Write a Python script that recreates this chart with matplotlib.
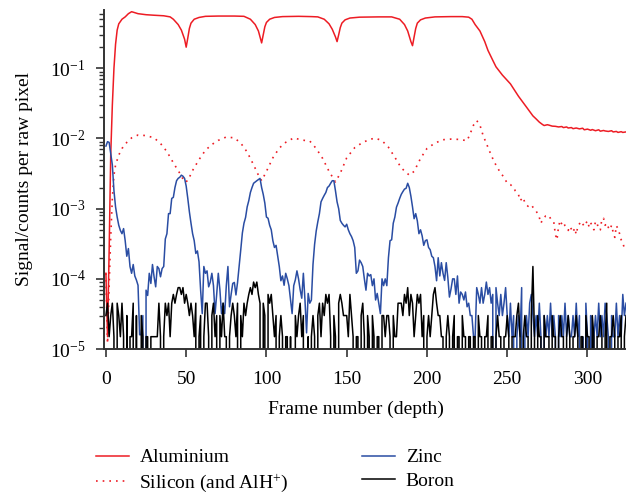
import matplotlib
matplotlib.use('Agg')
import matplotlib.pyplot as plt
import numpy as np

plt.rcParams['font.family'] = 'Liberation Serif'
plt.rcParams['mathtext.fontset'] = 'custom'
plt.rcParams['mathtext.rm'] = 'Liberation Serif'
plt.rcParams['mathtext.it'] = 'Liberation Serif:italic'
plt.rcParams['mathtext.bf'] = 'Liberation Serif:bold'

# Aluminium signal (frame, value)
al_frames = [0, 1, 2, 3, 4, 5, 6, 7, 8, 10,
             12, 14, 16, 18, 20, 25, 30, 36, 40, 42,
             45, 47, 49, 50, 51, 52, 53, 55, 58, 62,
             70, 80, 86, 90, 93, 95, 96, 97, 98, 99,
             100, 102, 105, 110, 120, 128, 132, 136, 139, 141,
             143, 144, 145, 146, 147, 149, 152, 158, 170, 178,
             183, 186, 188, 190, 191, 192, 193, 194, 196, 199,
             205, 215, 222, 226, 228, 230, 233, 236, 238, 241,
             243, 247, 252, 257, 262, 266, 268, 270, 272, 273,
             275, 276, 278, 280, 282, 284, 285, 287, 288, 290,
             291, 293, 295, 297, 298, 300, 302, 303, 305, 307,
             308, 310, 311, 313, 315, 316, 318, 319, 321, 322,
             324]
al_vals = [1.2e-4, 1.5e-5, 2.5e-4, 6e-3, 0.03, 0.1, 0.22, 0.35, 0.43, 0.5,
           0.54, 0.6, 0.64, 0.62, 0.6, 0.58, 0.57, 0.56, 0.54, 0.5,
           0.42, 0.35, 0.26, 0.2, 0.27, 0.37, 0.44, 0.5, 0.53, 0.55,
           0.555, 0.555, 0.55, 0.5, 0.42, 0.34, 0.28, 0.23, 0.3, 0.39,
           0.45, 0.5, 0.53, 0.545, 0.55, 0.545, 0.54, 0.5, 0.43, 0.36,
           0.28, 0.24, 0.3, 0.38, 0.44, 0.49, 0.52, 0.535, 0.54, 0.54,
           0.5, 0.42, 0.34, 0.24, 0.21, 0.28, 0.37, 0.44, 0.49, 0.52,
           0.54, 0.545, 0.545, 0.535, 0.5, 0.42, 0.34, 0.24, 0.18, 0.13,
           0.105, 0.08, 0.06, 0.04, 0.028, 0.021, 0.019, 0.0171, 0.0158, 0.0153,
           0.0157, 0.0155, 0.015, 0.0149, 0.0146, 0.0148, 0.0143, 0.0146, 0.0141, 0.0143,
           0.0138, 0.0141, 0.0137, 0.014, 0.0133, 0.0136, 0.0131, 0.0134, 0.0129, 0.0133,
           0.0127, 0.013, 0.0128, 0.0126, 0.0129, 0.0124, 0.0126, 0.0122, 0.0125, 0.0122,
           0.0124]

# Silicon (and AlH+) signal (frame, value)
si_frames = [0, 1, 2, 3, 4, 5, 6, 8, 10, 13,
             16, 20, 25, 30, 34, 38, 42, 46, 49, 51,
             54, 58, 62, 66, 70, 75, 80, 84, 88, 92,
             95, 97, 100, 104, 108, 112, 117, 122, 127, 131,
             135, 139, 143, 146, 150, 155, 160, 165, 168, 172,
             176, 180, 184, 189, 192, 196, 200, 205, 210, 215,
             220, 225, 227, 229, 231, 233, 235, 237, 240, 242,
             244, 246, 248, 250, 252, 254, 255, 257, 258, 260,
             261, 263, 265, 266, 268, 270, 271, 272, 274, 276,
             277, 279, 280, 281, 282, 283, 284, 285, 286, 288,
             289, 290, 291, 292, 293, 294, 296, 298, 299, 300,
             301, 302, 304, 305, 306, 307, 308, 309, 310, 311,
             312, 313, 314, 315, 316, 317, 318, 319, 320, 321,
             322, 323, 324]
si_vals = [1.2e-4, 1.2e-5, 8e-5, 4e-4, 1.4e-3, 3e-3, 4.2e-3, 5.8e-3, 7.2e-3, 8.8e-3,
           0.0102, 0.0112, 0.011, 0.0102, 8.5e-3, 6.5e-3, 4.5e-3, 3.2e-3, 2.4e-3, 2.5e-3,
           3.5e-3, 5e-3, 6.8e-3, 8.2e-3, 9.4e-3, 0.0105, 0.0102, 8.6e-3, 6.4e-3, 4.2e-3,
           3e-3, 2.5e-3, 3.4e-3, 5.3e-3, 7.3e-3, 8.8e-3, 0.0102, 0.0095, 0.0092, 7.2e-3,
           5.2e-3, 3.4e-3, 2.4e-3, 3.2e-3, 5.3e-3, 7.4e-3, 8.8e-3, 0.0098, 0.0101, 0.0093,
           7.5e-3, 5.4e-3, 3.8e-3, 3.0e-3, 3.4e-3, 5.2e-3, 7.2e-3, 8.6e-3, 9.6e-3, 0.0098,
           0.0097, 0.0093, 0.0118, 0.0155, 0.018, 0.0155, 0.011, 8.5e-3, 5.8e-3, 4.6e-3,
           3.8e-3, 3.2e-3, 2.8e-3, 2.3e-3, 2.2e-3, 2.0e-3, 1.8e-3, 1.6e-3, 1.3e-3, 1.45e-3,
           1.2e-3, 1.08e-3, 1.14e-3, 1.05e-3, 9.3e-4, 7.5e-4, 6.2e-4, 7.0e-4, 7.9e-4, 8.0e-4,
           7.2e-4, 6.5e-4, 4.3e-4, 3.6e-4, 5.6e-4, 6.8e-4, 6.0e-4, 6.4e-4, 5.7e-4, 4.9e-4,
           5.6e-4, 5.1e-4, 4.6e-4, 5.3e-4, 4.3e-4, 5.6e-4, 6.6e-4, 5.6e-4, 6.2e-4, 6.7e-4,
           5.5e-4, 6.3e-4, 5.0e-4, 6.6e-4, 6.2e-4, 5.0e-4, 5.0e-4, 7.2e-4, 7.3e-4, 5.8e-4,
           6.2e-4, 5.4e-4, 5.0e-4, 5.8e-4, 4.6e-4, 3.9e-4, 5.7e-4, 5.2e-4, 4.4e-4, 3.6e-4,
           3.3e-4, 2.7e-4, 2.9e-4]

# Zinc signal, one value per frame from frame 0, in units of 1e-5
zinc = [780, 900, 880, 600, 420, 180, 106, 76, 58, 49, 44, 52, 35, 21, 27, 15, 12, 16, 11, 9.6, 8.1, 1.6, 1.6, 3.0, 0,
        6.9, 5.8, 12, 8.6, 16, 10.7, 7.7, 15, 14, 10.7, 14, 15, 37, 44, 85, 85, 140, 145, 200, 250, 270, 280, 300, 290, 270,
        210, 140, 90, 62, 44, 35, 23, 25, 17.5, 6.9, 3.2, 15, 12, 13, 7.7, 9, 12, 8, 3.2, 6, 12, 7, 3.2, 4.5, 3.2,
        8, 15, 4, 6, 8.6, 8.9, 5.9, 8.9, 15, 26, 45, 62, 75, 106, 130, 170, 200, 230, 240, 250, 260, 270, 200, 160, 120,
        76, 73, 58, 50, 35, 28, 30, 21, 15, 9.4, 11, 8.1, 12, 10, 8, 5, 3.2, 8, 9.7, 13, 10, 7, 5.3, 12, 5,
        1.7, 6.2, 4.5, 5, 16, 31, 48, 65, 85, 125, 140, 155, 170, 200, 210, 230, 250, 250, 180, 125, 100, 68, 62, 58, 55,
        60, 50, 44, 40, 35, 28, 12, 13, 18.5, 17, 15, 10, 6.9, 12, 11, 11.5, 8, 10, 5, 6.2, 4.5, 3.2, 10, 8, 10,
        8, 20, 35, 36, 62, 76, 105, 120, 140, 160, 175, 190, 195, 230, 200, 150, 106, 72, 85, 67, 44, 50, 41, 30, 35,
        36, 28, 26, 21, 20, 15, 9.4, 20, 11, 17, 12, 9.5, 17, 10.5, 5.5, 7.2, 10, 10, 6, 11, 4.5, 6.5, 6, 5, 6.5,
        4, 4.5, 3, 3, 1.5, 1.5, 7.5, 6, 4.5, 7.5, 4.5, 6, 9, 6, 7.5, 4.5, 6, 0, 7.5, 4.5, 3, 6, 3, 4.5, 7.5,
        3, 1.5, 4.5, 1.5, 3, 0, 1.5, 3, 1.5, 7.5, 0, 1.5, 3, 1.5, 4.5, 6, 3, 1.5, 3, 1.5, 4.5, 1.5, 0, 3, 1.5,
        3, 1.5, 4.5, 1.5, 3, 1.5, 0, 3, 1.5, 3, 1.5, 4.5, 1.5, 3, 1.5, 1.5, 3, 1.5, 4.5, 1.5, 3, 0, 1.5, 0, 4.5,
        1.5, 0, 3, 0, 1.5, 3, 1.5, 4.5, 1.5, 3, 1.5, 4.5, 3, 1.5, 0, 3, 1.5, 1.5, 4.5, 1.5, 3, 1.5, 6, 3, 4.5]

# Boron signal, raw counts per frame from frame 0 (1 count = 1.5e-5)
boron_counts = [2, 3, 1, 2, 3, 1, 0, 3, 2, 1, 3, 1, 0, 2, 0, 1, 1, 3, 0, 2, 0, 0, 2, 1, 0,
                1, 1, 0, 1, 1, 1, 1, 1, 3, 1, 0, 1, 3, 2, 3, 1, 3, 4, 3, 4, 5, 5, 4, 5, 3,
                4, 3, 2, 3, 2, 1, 3, 0, 1, 2, 0, 1, 3, 3, 1, 0, 2, 3, 1, 2, 0, 2, 1, 3, 1,
                1, 0, 1, 2, 3, 2, 1, 3, 0, 2, 1, 3, 2, 3, 4, 5, 4, 6, 5, 6, 4, 3, 0, 3, 2,
                0, 4, 3, 4, 2, 1, 2, 0, 1, 2, 1, 0, 1, 1, 0, 1, 0, 0, 2, 1, 2, 3, 1, 2, 0,
                0, 1, 0, 1, 2, 1, 0, 2, 3, 1, 3, 2, 4, 3, 4, 1, 0, 2, 1, 0, 3, 4, 3, 2, 2,
                2, 1, 4, 2, 1, 0, 1, 1, 0, 2, 3, 1, 0, 2, 1, 0, 2, 1, 0, 1, 1, 0, 2, 2, 1,
                2, 2, 1, 0, 2, 1, 1, 3, 3, 3, 2, 4, 3, 5, 2, 4, 3, 1, 2, 4, 3, 4, 1, 2, 0,
                1, 2, 1, 2, 4, 5, 3, 2, 2, 1, 1, 0, 1, 2, 1, 0, 1, 2, 0, 1, 1, 0, 2, 1, 1,
                0, 1, 1, 0, 1, 1, 0, 2, 1, 1, 0, 1, 1, 2, 0, 1, 1, 0, 1, 2, 1, 1, 0, 1, 1,
                2, 1, 0, 1, 1, 1, 2, 3, 1, 0, 1, 2, 1, 1, 0, 2, 10, 1, 0, 2, 1, 1, 0, 2, 1,
                1, 1, 0, 2, 1, 1, 0, 1, 2, 1, 1, 0, 1, 2, 1, 0, 1, 1, 2, 1, 0, 1, 1, 0, 2,
                1, 1, 0, 2, 1, 0, 1, 1, 2, 1, 0, 1, 3, 0, 1, 1, 2, 1, 0, 1, 1, 2, 0, 1, 2]
boron_unit = 1.5e-5

red = '#ed1c24'
blue = '#2a4da3'

fig = plt.figure(figsize=(6.26, 4.93), dpi=100)
ax = fig.add_axes([0.166, 0.292, 0.834, 0.688])

ax.plot(al_frames, al_vals, color=red, lw=1.1, label='Aluminium')
ax.plot(si_frames, si_vals, color=red, lw=1.2, ls=(0, (1, 3)), label='Silicon (and AlH$^{+}$)')
ax.plot(np.arange(len(zinc)), np.array(zinc) * 1e-5, color=blue, lw=1.1, label='Zinc')
ax.plot(np.arange(len(boron_counts)), np.array(boron_counts) * boron_unit, color='black', lw=1.1, label='Boron')

ax.set_yscale('log')
ax.set_ylim(1e-5, 0.68)
ax.set_xlim(-1.25, 324)
ax.set_xticks([0, 50, 100, 150, 200, 250, 300])

for s in ['top', 'right']:
    ax.spines[s].set_visible(False)
for s in ['left', 'bottom']:
    ax.spines[s].set_linewidth(1.4)
    ax.spines[s].set_color('#333333')

ax.tick_params(which='major', direction='out', length=6, width=1.2, color='#333333', labelsize=14)
ax.tick_params(axis='x', which='major', pad=10)
ax.tick_params(axis='y', which='major', pad=7)
ax.tick_params(which='minor', direction='out', length=3.5, width=1.0, color='#333333')

ax.set_xlabel('Frame number (depth)', fontsize=14)
ax.set_ylabel('Signal/counts per raw pixel', fontsize=14)
ax.xaxis.set_label_coords(0.483, -0.152)
ax.yaxis.set_label_coords(-0.135, 0.5)

handles, labels = ax.get_legend_handles_labels()
fig.legend(handles, labels, ncol=2, loc='upper left', bbox_to_anchor=(86 / 626, 1 - 439 / 493),
           frameon=False, fontsize=14, borderpad=0, handlelength=1.7, handletextpad=0.55,
           columnspacing=3.77, labelspacing=0.3)

fig.savefig('out.png', dpi=100)
